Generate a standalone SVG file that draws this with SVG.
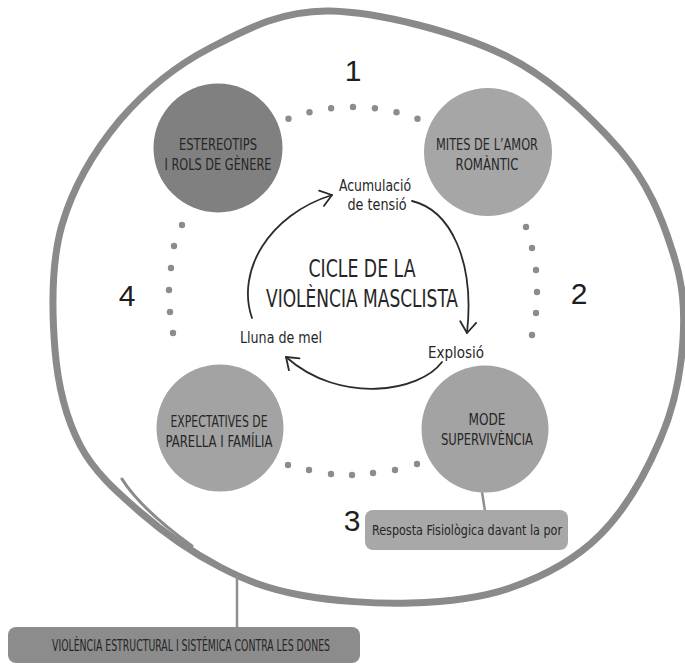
<svg xmlns="http://www.w3.org/2000/svg" width="685" height="667" viewBox="0 0 685 667">
<defs>
<style>
.lbl{font-family:"DejaVu Sans","Liberation Sans",sans-serif;font-stretch:condensed;fill:#262626;text-anchor:middle}
.node{font-size:16px}
.num{font-family:"Liberation Sans","DejaVu Sans",sans-serif;font-size:30px;fill:#1e1e1e;text-anchor:middle}
.ring{fill:none;stroke:#8a8a8a;stroke-width:7;stroke-linecap:round}
.link{fill:none;stroke:#8f8f8f;stroke-width:2.5}
.arc{fill:none;stroke:#2b2b2b;stroke-width:1.8;stroke-linecap:round}
.dot{fill:#8c8c8c}
</style>
<marker id="ah" viewBox="-12 -9 14 18" markerWidth="14" markerHeight="18" refX="0" refY="0" orient="auto" markerUnits="userSpaceOnUse">
<path d="M-11,-8 L0,0 L-11,8" fill="none" stroke="#2b2b2b" stroke-width="1.8" stroke-linecap="round" stroke-linejoin="round"/>
</marker>
</defs>
<rect width="685" height="667" fill="#ffffff"/>

<g id="outer-ring">
<path class="ring" d="M330,11 C379,12 456,32 504,55 C552,78 592,118 620,150 C648,183 662,218 672,250 C683,282 685,308 683,340 C681,372 674,408 660,440 C646,473 625,510 600,535 C575,560 542,577 510,588 C478,599 445,602 410,603 C375,604 332,601 300,595 C268,589 247,581 220,567 C193,553 163,532 140,512 C117,492 94,472 80,445 C66,418 58,387 55,350 C52,313 51,263 62,225 C73,187 95,150 120,120 C145,91 175,66 210,48 C245,30 281,10 330,11 Z"/>
<path d="M122,479 C132,495 152,517 192,546" fill="none" stroke="#8a8a8a" stroke-width="3" stroke-linecap="round"/>
</g>

<g id="dots">
<circle class="dot" cx="288.5" cy="118.7" r="3.2"/>
<circle class="dot" cx="309.5" cy="112.2" r="3.2"/>
<circle class="dot" cx="331.1" cy="108.3" r="3.2"/>
<circle class="dot" cx="353" cy="107" r="3.2"/>
<circle class="dot" cx="374.9" cy="108.3" r="3.2"/>
<circle class="dot" cx="396.5" cy="112.2" r="3.2"/>
<circle class="dot" cx="417.5" cy="118.7" r="3.2"/>
<circle class="dot" cx="526" cy="227" r="3.2"/>
<circle class="dot" cx="532" cy="248" r="3.2"/>
<circle class="dot" cx="536" cy="270" r="3.2"/>
<circle class="dot" cx="537" cy="292" r="3.2"/>
<circle class="dot" cx="536" cy="313" r="3.2"/>
<circle class="dot" cx="532" cy="335" r="3.2"/>
<circle class="dot" cx="182" cy="225" r="3.2"/>
<circle class="dot" cx="174" cy="246" r="3.2"/>
<circle class="dot" cx="171" cy="268" r="3.2"/>
<circle class="dot" cx="169" cy="290" r="3.2"/>
<circle class="dot" cx="170" cy="312" r="3.2"/>
<circle class="dot" cx="173" cy="333" r="3.2"/>
<circle class="dot" cx="288" cy="465" r="3.2"/>
<circle class="dot" cx="309" cy="470" r="3.2"/>
<circle class="dot" cx="331" cy="474" r="3.2"/>
<circle class="dot" cx="352" cy="475" r="3.2"/>
<circle class="dot" cx="373" cy="473" r="3.2"/>
<circle class="dot" cx="395" cy="470" r="3.2"/>
<circle class="dot" cx="417" cy="464" r="3.2"/>
</g>

<g id="connectors">
<path class="link" d="M482,492 L485,511"/>
<path class="link" d="M237,576 L237,628"/>
<path class="arc" d="M412,201 C450,210 475,260 467,333" marker-end="url(#ah)"/>
<path class="arc" d="M442,362 C420,392 340,405 286,357" marker-end="url(#ah)"/>
<path class="arc" d="M252,318 C236,272 268,215 332,195" marker-end="url(#ah)"/>
</g>

<g id="n-estereotips">
<circle cx="218" cy="148" r="64.5" fill="#808080"/>
<text class="lbl node" x="218" y="150" textLength="78" lengthAdjust="spacingAndGlyphs">ESTEREOTIPS</text>
<text class="lbl node" x="218" y="170" textLength="107" lengthAdjust="spacingAndGlyphs">I ROLS DE GÈNERE</text>
</g>

<g id="n-mites">
<circle cx="488" cy="152" r="64" fill="#a6a6a6"/>
<text class="lbl node" x="487" y="150" textLength="102" lengthAdjust="spacingAndGlyphs">MITES DE L’AMOR</text>
<text class="lbl node" x="487" y="170" textLength="63" lengthAdjust="spacingAndGlyphs">ROMÀNTIC</text>
</g>

<g id="n-expectatives">
<circle cx="220" cy="428" r="63.5" fill="#a3a3a3"/>
<text class="lbl node" x="219" y="427" textLength="97" lengthAdjust="spacingAndGlyphs">EXPECTATIVES DE</text>
<text class="lbl node" x="219" y="447" textLength="107" lengthAdjust="spacingAndGlyphs">PARELLA I FAMÍLIA</text>
</g>

<g id="n-mode">
<circle cx="485" cy="429" r="63.5" fill="#a3a3a3"/>
<text class="lbl node" x="487" y="425" textLength="37" lengthAdjust="spacingAndGlyphs">MODE</text>
<text class="lbl node" x="487" y="445" textLength="92" lengthAdjust="spacingAndGlyphs">SUPERVIVÈNCIA</text>
</g>

<g id="n-resposta">
<rect x="365" y="510" width="203" height="40" rx="8" fill="#a8a8a8"/>
<text class="lbl" x="467" y="535" font-size="14" textLength="190" lengthAdjust="spacingAndGlyphs">Resposta Fisiològica davant la por</text>
</g>

<g id="n-violencia">
<rect x="8" y="627" width="352" height="36" rx="8" fill="#8c8c8c"/>
<text class="lbl" x="191" y="651" font-size="16" textLength="278" lengthAdjust="spacingAndGlyphs">VIOLÈNCIA ESTRUCTURAL I SISTÈMICA CONTRA LES DONES</text>
</g>

<g id="cycle-labels">
<text class="lbl" x="362" y="277" font-size="25" textLength="107" lengthAdjust="spacingAndGlyphs">CICLE DE LA</text>
<text class="lbl" x="362" y="307" font-size="25" textLength="192" lengthAdjust="spacingAndGlyphs">VIOLÈNCIA MASCLISTA</text>
<text class="lbl" x="375" y="191" font-size="16" textLength="72" lengthAdjust="spacingAndGlyphs">Acumulació</text>
<text class="lbl" x="377" y="210" font-size="16" textLength="59" lengthAdjust="spacingAndGlyphs">de tensió</text>
<text class="lbl" x="281" y="343" font-size="16" textLength="82" lengthAdjust="spacingAndGlyphs">Lluna de mel</text>
<text class="lbl" x="456" y="358" font-size="16" textLength="56" lengthAdjust="spacingAndGlyphs">Explosió</text>
</g>

<g id="numbers">
<text class="num" x="353" y="81">1</text>
<text class="num" x="579" y="304">2</text>
<text class="num" x="352" y="531">3</text>
<text class="num" x="127" y="306">4</text>
</g>
</svg>
